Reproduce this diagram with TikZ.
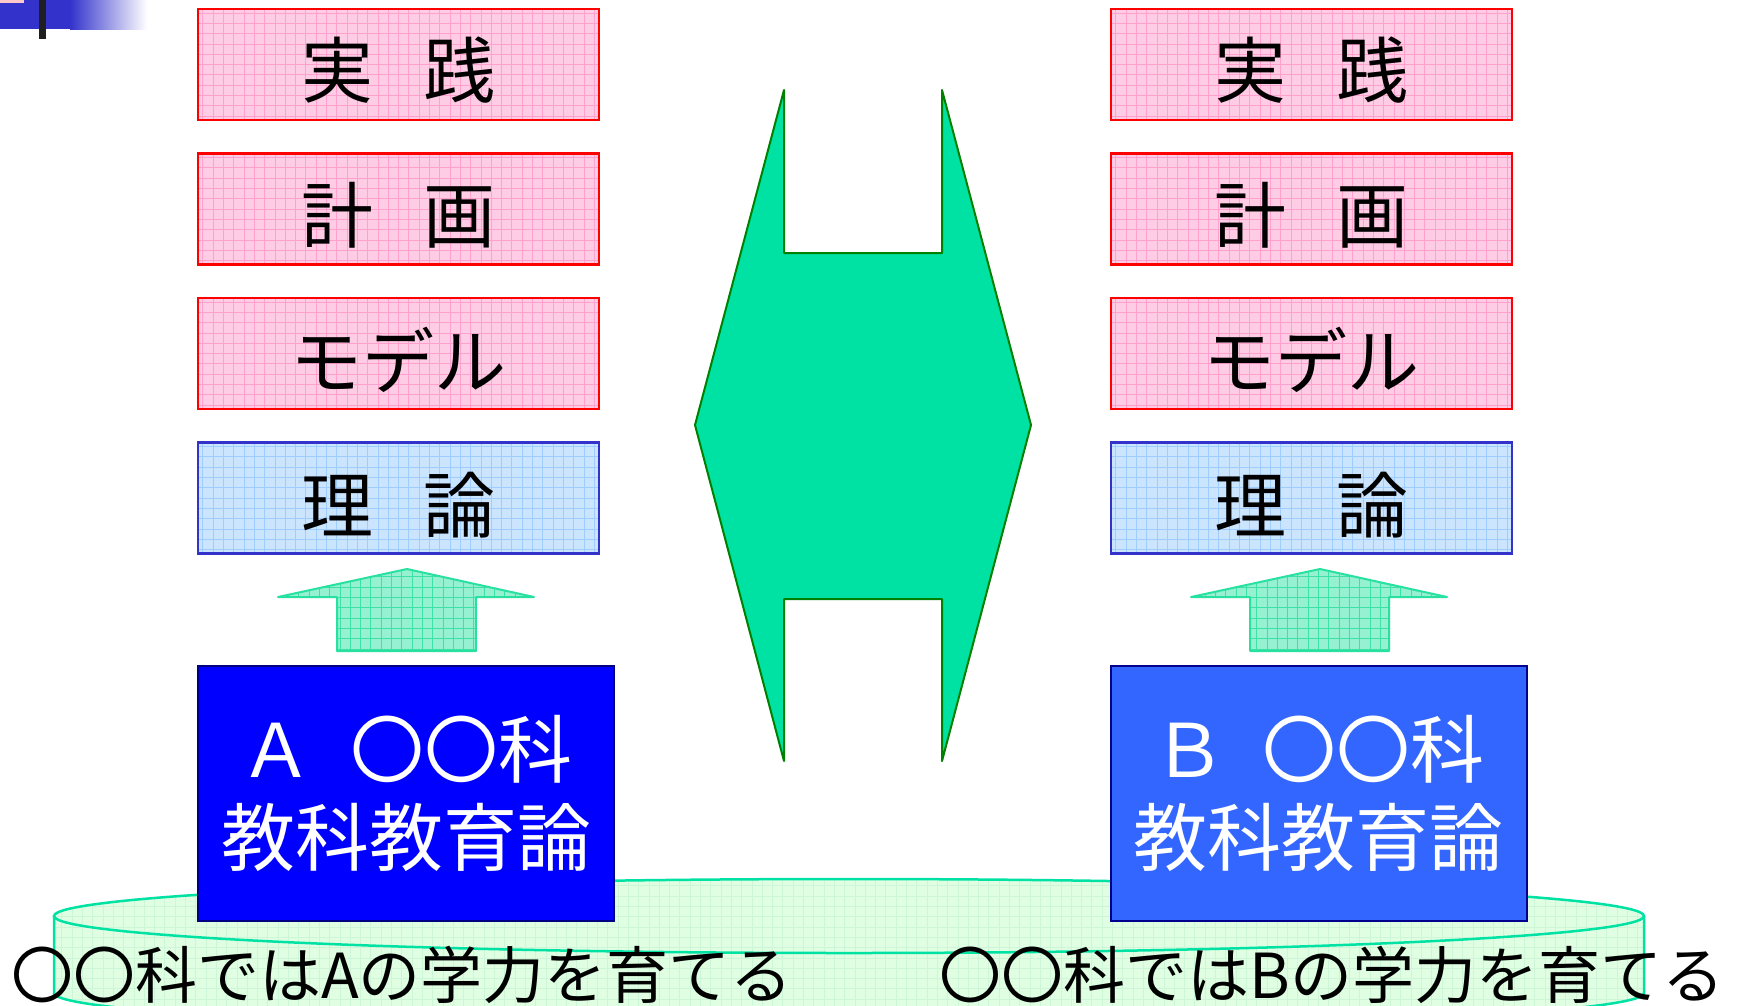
\documentclass[tikz,border=0pt]{standalone}
\usepackage{fontspec}
\newfontfamily\jp{Noto Sans CJK JP}
\definecolor{boxred}{RGB}{255,0,0}
\definecolor{pinkfill}{RGB}{255,204,230}
\definecolor{pinkgrid}{RGB}{255,160,205}
\definecolor{theoryfill}{RGB}{204,229,255}
\definecolor{theorygrid}{RGB}{160,205,255}
\definecolor{theoryedge}{RGB}{51,51,204}
\definecolor{arrowfill}{RGB}{150,240,210}
\definecolor{arrowgrid}{RGB}{60,225,165}
\definecolor{arrowedge}{RGB}{40,225,160}
\definecolor{bigfill}{RGB}{0,226,164}
\definecolor{bigedge}{RGB}{0,128,0}
\definecolor{cylfill}{RGB}{224,255,226}
\definecolor{cylgrid}{RGB}{205,245,215}
\definecolor{cyledge}{RGB}{0,226,164}
\definecolor{afill}{RGB}{0,0,255}
\definecolor{aedge}{RGB}{0,0,130}
\definecolor{bfill}{RGB}{51,102,255}
\definecolor{bedge}{RGB}{0,0,140}
\definecolor{cornerblue}{RGB}{51,51,204}
\definecolor{cornerpink}{RGB}{255,200,200}
\begin{document}
\begin{tikzpicture}[x=1pt,y=-1pt,
  gridfill/.style={path picture={\draw[#1, line width=0.7pt, step=10.3pt]
      (path picture bounding box.south west) grid (path picture bounding box.north east);}},
  stackbox/.style={minimum width=401pt, minimum height=111pt, inner sep=0pt, line width=2.5pt},
  pinkbox/.style={stackbox, draw=boxred, fill=pinkfill, gridfill=pinkgrid},
  theorybox/.style={stackbox, draw=theoryedge, fill=theoryfill, gridfill=theorygrid},
  boxtext/.style={font=\jp\fontsize{72}{80}\selectfont, inner sep=0pt, text=black},
  subjbox/.style={minimum width=416pt, minimum height=255pt, inner sep=0pt, line width=2pt,
      align=center, text=white, font=\jp\fontsize{74}{88}\selectfont},
  uparrow/.style={fill=arrowfill, draw=arrowedge, line width=2pt, line join=round, gridfill=arrowgrid},
  bottomtext/.style={font=\jp\fontsize{62}{70}\selectfont, inner sep=0pt, text=black, anchor=base}
]
\useasboundingbox (0,0) rectangle (1738,1005);
\fill[white] (0,0) rectangle (1738,1005);

% corner decoration
\fill[cornerblue] (0,0) rectangle (70,29);
\shade[left color=cornerblue, right color=white] (70,0) rectangle (147,29);
\fill[cornerpink] (0,0) rectangle (24,3);
\fill[black!88] (39,0) rectangle (46,39);

% cylinder (base)
\path[fill=cylfill, gridfill=cylgrid]
  (54,916) arc[start angle=180, end angle=360, x radius=795, y radius=37]
  -- (1644,993) arc[start angle=0, end angle=180, x radius=795, y radius=37] -- cycle;
\draw[cyledge, line width=2.5pt] (54,916) -- (54,993)
  arc[start angle=180, end angle=0, x radius=795, y radius=37] -- (1644,916);
\draw[cyledge, line width=2.5pt] (849,916) ellipse [x radius=795, y radius=37];

% left stack
\node[pinkbox] (lp1) at (398.5,64.5) {};
\node[boxtext] (lt1) at ([yshift=-6pt]lp1.center) {実\hspace{51pt}践};
\node[pinkbox] (lp2) at (398.5,209) {};
\node[boxtext] (lt2) at ([yshift=-6pt]lp2.center) {計\hspace{51pt}画};
\node[pinkbox] (lp3) at (398.5,353.5) {};
\node[boxtext] (lt3) at ([yshift=-6pt]lp3.center) {モデル};
\node[theorybox] (lp4) at (398.5,498) {};
\node[boxtext] (lt4) at ([yshift=-7pt]lp4.center) {理\hspace{51pt}論};

% right stack
\node[pinkbox] (rp1) at (1311.5,64.5) {};
\node[boxtext] (rt1) at ([yshift=-6pt]rp1.center) {実\hspace{51pt}践};
\node[pinkbox] (rp2) at (1311.5,209) {};
\node[boxtext] (rt2) at ([yshift=-6pt]rp2.center) {計\hspace{51pt}画};
\node[pinkbox] (rp3) at (1311.5,353.5) {};
\node[boxtext] (rt3) at ([yshift=-6pt]rp3.center) {モデル};
\node[theorybox] (rp4) at (1311.5,498) {};
\node[boxtext] (rt4) at ([yshift=-7pt]rp4.center) {理\hspace{51pt}論};

% up arrows
\path[uparrow] (407,569) -- (534,597) -- (476,597) -- (476,651) -- (337,651) -- (337,597) -- (278,597) -- cycle;
\path[uparrow] (1320,569) -- (1447,597) -- (1389,597) -- (1389,651) -- (1250,651) -- (1250,597) -- (1191,597) -- cycle;

% central double arrow
\path[fill=bigfill, draw=bigedge, line width=2pt, line join=round]
  (784,90) -- (784,253) -- (942,253) -- (942,90) -- (1031,425) -- (942,761) -- (942,599)
  -- (784,599) -- (784,761) -- (695,425) -- cycle;

% subject boxes
\node[subjbox, fill=afill, draw=aedge] (sa) at (406,793.5) {Ａ\hspace{0.5em}〇〇科\\教科教育論};
\node[subjbox, fill=bfill, draw=bedge] (sb) at (1318.5,793.5) {Ｂ\hspace{0.5em}〇〇科\\教科教育論};

% bottom texts
\node[bottomtext] (ba) at (402,998) {〇〇科ではAの学力を育てる};
\node[bottomtext] (bb) at (1332,998) {〇〇科ではBの学力を育てる};
\end{tikzpicture}
\end{document}
